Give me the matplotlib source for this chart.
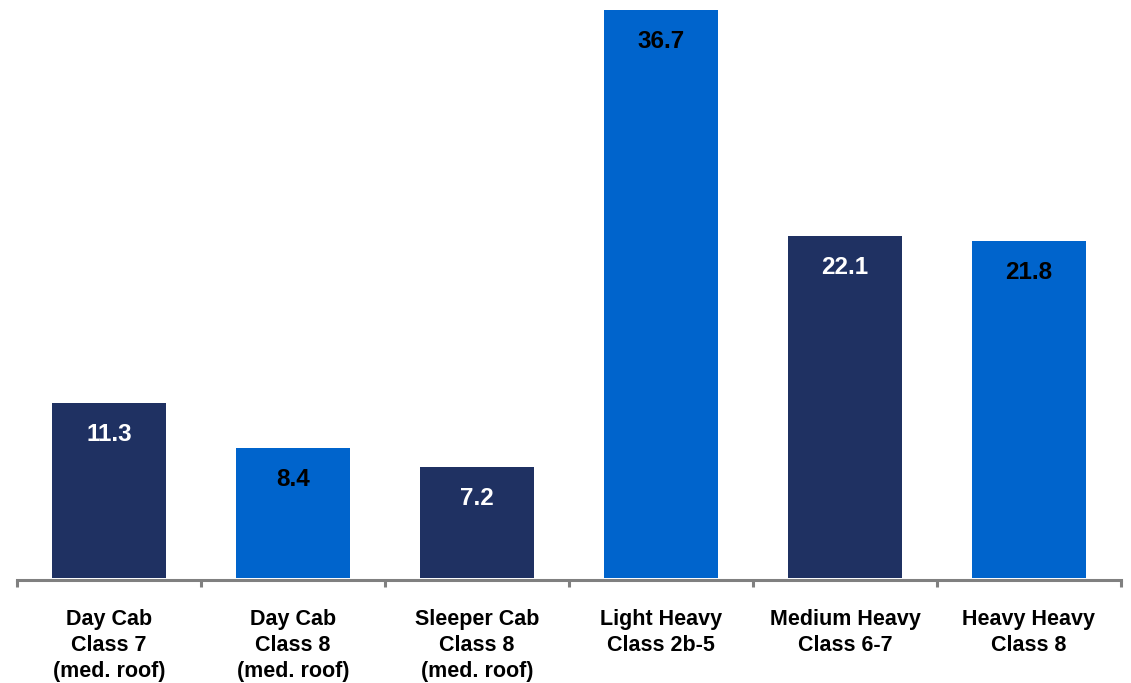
import matplotlib.pyplot as plt

categories = ['Day Cab\nClass 7\n(med. roof)', 'Day Cab\nClass 8\n(med. roof)',
              'Sleeper Cab\nClass 8\n(med. roof)', 'Light Heavy\nClass 2b-5',
              'Medium Heavy\nClass 6-7', 'Heavy Heavy\nClass 8']
values = [11.3, 8.4, 7.2, 36.7, 22.1, 21.8]

navy = '#1F3162'
blue = '#0064CC'
bar_colors = [navy, blue, navy, blue, navy, blue]
label_colors = ['white', 'black', 'white', 'black', 'white', 'black']

plt.rcParams['font.family'] = ['Liberation Sans', 'DejaVu Sans']

fig = plt.figure(figsize=(11.31, 6.83), dpi=100)
ax = fig.add_axes([17 / 1131, 105 / 683, 1104 / 1131, 578 / 683])

x = range(len(values))
ax.bar(x, values, width=0.62, color=bar_colors, zorder=2)

for i, v in enumerate(values):
    ax.annotate(f'{v:.1f}', xy=(i, v), xytext=(0, -27.4), textcoords='offset points',
                ha='center', va='baseline', fontsize=17.5, fontweight='bold',
                color=label_colors[i])

ax.set_xlim(-0.5, len(values) - 0.5)
ax.set_ylim(0, 36.7 + 10 / 15.477)

for s in ['left', 'right', 'top']:
    ax.spines[s].set_visible(False)
ax.spines['bottom'].set_color('#808080')
ax.spines['bottom'].set_linewidth(2.2)
ax.spines['bottom'].set_position(('data', -0.1))

ax.set_yticks([])
ax.set_xticks(list(x))
ax.set_xticklabels(categories, fontsize=15.5, fontweight='bold', linespacing=1.32, va='top')
ax.tick_params(axis='x', which='major', length=0, pad=21)
ax.set_xticks([i - 0.5 for i in range(len(values) + 1)], minor=True)
ax.tick_params(axis='x', which='minor', length=5, width=2.2, color='#808080', direction='out')

fig.savefig('out.png', dpi=100)
